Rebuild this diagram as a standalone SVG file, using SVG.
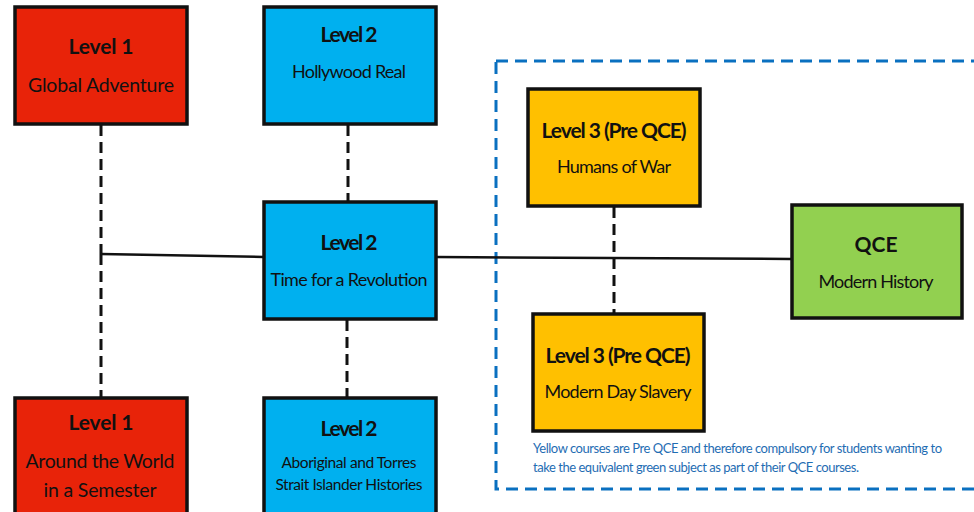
<svg xmlns="http://www.w3.org/2000/svg" width="974" height="512" viewBox="0 0 974 512">
<style>
.box{stroke:#111;stroke-width:3.5}
.red{fill:#E82309}.blue{fill:#00B0EF}.yel{fill:#FFC000}.grn{fill:#92D050}
text{font-family:Lato,"Open Sans","Liberation Sans",sans-serif;fill:#111;text-anchor:middle}
.t{font-weight:bold;font-size:21px}
.s{font-size:18px}
.l{font-size:19.5px}
.xs{font-size:15.5px}
.note{font-size:13px;fill:#1F6DB3;text-anchor:start}
.solid{stroke:#111;stroke-width:2.5;fill:none}
.dash{stroke:#111;stroke-width:3;stroke-dasharray:11 6;fill:none}
</style>
<rect x="496" y="61" width="500" height="428" fill="none" stroke="#0A70C0" stroke-width="3" stroke-dasharray="12 7"/>
<g id="connectors">
<path class="dash" d="M101 125V254"/>
<path class="dash" d="M101 254V397"/>
<path class="solid" d="M101 254L264 257"/>
<path class="solid" d="M436 257L791 259"/>
<path class="dash" d="M348 125V201"/>
<path class="dash" d="M347 320V397"/>
<path class="dash" d="M614 207V313"/>
</g>
<g id="global-adventure">
<rect class="box red" x="15" y="7" width="172" height="117"/>
<text class="t" x="101" y="54" textLength="65">Level 1</text>
<text class="l" x="101" y="92" textLength="146">Global Adventure</text>
</g>
<g id="hollywood-real">
<rect class="box blue" x="264" y="7" width="172" height="117"/>
<text class="t" x="349" y="42" textLength="57">Level 2</text>
<text class="s" x="349" y="78" textLength="114">Hollywood Real</text>
</g>
<g id="time-for-a-revolution">
<rect class="box blue" x="264" y="202" width="172" height="117"/>
<text class="t" x="349" y="250" textLength="57">Level 2</text>
<text class="s" x="349" y="286" textLength="157">Time for a Revolution</text>
</g>
<g id="around-the-world">
<rect class="box red" x="15" y="398" width="172" height="120"/>
<text class="t" x="101" y="430" textLength="65">Level 1</text>
<text class="l" x="100" y="468" textLength="149">Around the World</text>
<text class="l" x="100" y="497" textLength="113">in a Semester</text>
</g>
<g id="aboriginal-torres-strait">
<rect class="box blue" x="264" y="398" width="172" height="120"/>
<text class="t" x="349" y="436" textLength="57">Level 2</text>
<text class="xs" x="349" y="468" textLength="135">Aboriginal and Torres</text>
<text class="xs" x="349" y="490" textLength="147">Strait Islander Histories</text>
</g>
<g id="humans-of-war">
<rect class="box yel" x="528" y="89" width="172" height="117"/>
<text class="t" x="614" y="138" textLength="145">Level 3 (Pre QCE)</text>
<text class="s" x="614" y="173" textLength="114">Humans of War</text>
</g>
<g id="modern-history">
<rect class="box grn" x="792" y="205" width="170" height="113"/>
<text class="t" x="876" y="252">QCE</text>
<text class="s" x="876" y="288" textLength="115">Modern History</text>
</g>
<g id="modern-day-slavery">
<rect class="box yel" x="533" y="314" width="171" height="117"/>
<text class="t" x="618" y="363" textLength="145">Level 3 (Pre QCE)</text>
<text class="s" x="618" y="398" textLength="147">Modern Day Slavery</text>
</g>
<g id="note">
<text class="note" x="533" y="453" textLength="409">Yellow courses are Pre QCE and therefore compulsory for students wanting to</text>
<text class="note" x="533" y="472" textLength="326">take the equivalent green subject as part of their QCE courses.</text>
</g>
</svg>
